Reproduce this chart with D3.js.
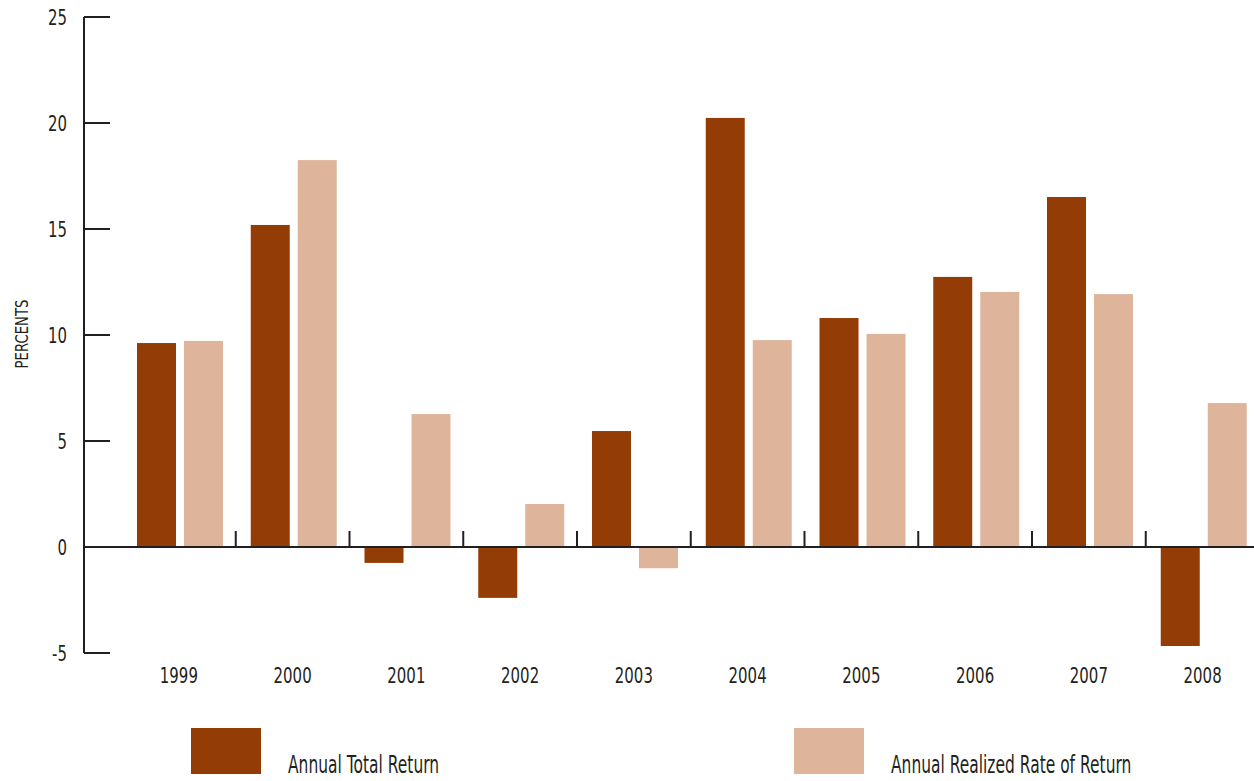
<!DOCTYPE html>
<html><head><meta charset="utf-8">
<script src="https://cdn.jsdelivr.net/npm/d3@7"></script>
<style>
body{margin:0;background:#fff;}
text{font-family:"DejaVu Sans",sans-serif;fill:#231f20;}
</style></head>
<body><svg id="c" width="1254" height="781"></svg>
<script>
const years = ["1999","2000","2001","2002","2003","2004","2005","2006","2007","2008"];
const totalReturn = [9.62, 15.19, -0.75, -2.4, 5.47, 20.24, 10.8, 12.74, 16.51, -4.67];
const realizedReturn = [9.72, 18.25, 6.27, 2.03, -1.0, 9.76, 10.05, 12.03, 11.93, 6.79];
const yTicks = [-5, 0, 5, 10, 15, 20, 25];
const seriesNames = ["Annual Total Return", "Annual Realized Rate of Return"];
const colors = ["#933c06", "#deb59b"];

const svg = d3.select("#c");
const y = d3.scaleLinear().domain([-5, 25]).range([653, 17]);
const x = d3.scaleBand().domain(years).range([122, 1259.5]);
const axisX = 84;

function label(px, py, txt, size, sx, anchor, rot) {
  const g = svg.append("g").attr("transform", `translate(${px},${py})` + (rot ? ` rotate(${rot})` : "") + ` scale(${sx},1)`);
  return g.append("text").attr("text-anchor", anchor || "start").attr("font-size", size).text(txt);
}

// bars
const barW = 39;
years.forEach((yr, i) => {
  const b = x(yr);
  const vals = [totalReturn[i], realizedReturn[i]];
  const offs = [15, 15 + barW + 8];
  vals.forEach((v, k) => {
    svg.append("rect")
      .attr("x", b + offs[k]).attr("width", barW)
      .attr("y", y(Math.max(0, v))).attr("height", Math.abs(y(v) - y(0)))
      .attr("fill", colors[k]);
  });
});

// y axis line
svg.append("line").attr("x1", axisX).attr("x2", axisX).attr("y1", y(25)).attr("y2", y(-5))
  .attr("stroke", "#231f20").attr("stroke-width", 2);
yTicks.filter(t => t !== 0).forEach(t => {
  svg.append("line").attr("x1", axisX).attr("x2", 110).attr("y1", y(t)).attr("y2", y(t))
    .attr("stroke", "#231f20").attr("stroke-width", 2);
});
yTicks.forEach(t => {
  label(67, y(t) + 8, String(t), 22, 0.68, "end");
});
// zero line
svg.append("line").attr("x1", axisX).attr("x2", 1254).attr("y1", y(0)).attr("y2", y(0))
  .attr("stroke", "#231f20").attr("stroke-width", 2);
// category separators
years.slice(1).forEach(yr => {
  svg.append("line").attr("x1", x(yr)).attr("x2", x(yr)).attr("y1", y(0) - 16).attr("y2", y(0))
    .attr("stroke", "#231f20").attr("stroke-width", 2);
});
// year labels
years.forEach(yr => {
  label(x(yr) + x.bandwidth() / 2, 683, yr, 22, 0.68, "middle");
});
// y label
label(28, 334, "PERCENTS", 17, 0.78, "middle", -90);

// legend
const legX = [191, 794];
seriesNames.forEach((n, k) => {
  svg.append("rect").attr("x", legX[k]).attr("y", 728).attr("width", 70).attr("height", 46).attr("fill", colors[k]);
  label(legX[k] + 97, 773, n, 24, 0.645, "start");
});
</script></body></html>
